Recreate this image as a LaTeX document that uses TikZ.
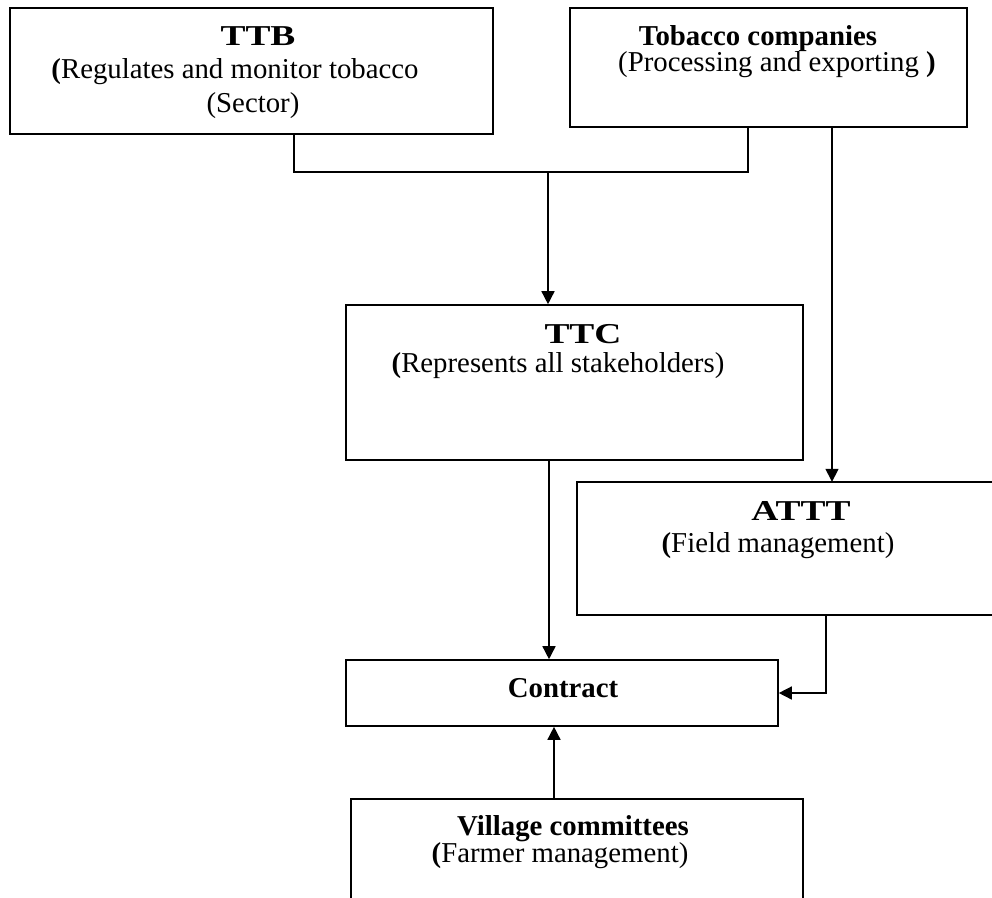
\documentclass[tikz,border=0pt]{standalone}
\usepackage{fontspec}
\setmainfont{Liberation Serif}
\usetikzlibrary{arrows.meta}
\begin{document}
\begin{tikzpicture}[x=1pt,y=-1pt,
  box/.style={rectangle, draw=black, line width=1.6pt, inner sep=0pt},
  openbox/.style={rectangle, inner sep=0pt},
  txt/.style={anchor=base, inner sep=0pt, font=\fontsize{28.8}{31}\selectfont},
  head/.style={anchor=base, inner sep=0pt, font=\fontsize{28.8}{31}\selectfont\bfseries},
  conn/.style={line width=1.5pt},
  arr/.style={conn, -{Triangle[length=13pt,width=13pt]}}]
\useasboundingbox (0,0) rectangle (992,897);
% boxes
\node[box, minimum width=483pt, minimum height=126pt] (ttb) at (251.5,71) {};
\node[box, minimum width=397pt, minimum height=119pt] (tob) at (768.5,67.5) {};
\node[box, minimum width=457pt, minimum height=155pt] (ttc) at (574.5,382.5) {};
\node[openbox, minimum width=418pt, minimum height=133pt] (attt) at (786,548.5) {};
\draw[conn, line width=1.6pt] (attt.north east) -- (attt.north west) -- (attt.south west) -- (attt.south east);
\node[box, minimum width=432pt, minimum height=66pt] (con) at (562,693) {};
\node[openbox, minimum width=452pt, minimum height=102pt] (vil) at (577,850) {};
\draw[conn, line width=1.6pt] (vil.south west) -- (vil.north west) -- (vil.north east) -- (vil.south east);
% helper coordinates
\coordinate (tl) at (294,172);
\coordinate (tr) at (748,172);
\coordinate (j) at (548,172);
\coordinate (tx) at (832,0);
\coordinate (cx) at (549,0);
\coordinate (ax) at (826,0);
\coordinate (vx) at (554,0);
% connectors
\draw[conn] (ttb.south -| tl) -- (tl) -- (tr) -- (tob.south -| tr);
\draw[arr] (j) -- (ttc.north -| j);
\draw[arr] (tob.south -| tx) -- (attt.north -| tx);
\draw[arr] (ttc.south -| cx) -- (con.north -| cx);
\draw[arr] (attt.south -| ax) -- (ax |- con.east) -- (con.east);
\draw[arr] (vil.north -| vx) -- (con.south -| vx);
% texts
\node[head] (ttbT) at (258,45) {\scalebox{1.3}[1]{TTB}};
\node[txt] (ttbA) at (235,78) {\textbf{(}Regulates and monitor tobacco};
\node[txt] (ttbB) at (253,112) {(Sector)};
\node[head] (tobT) at (758,45) {Tobacco companies};
\node[txt] (tobA) at (777,71) {(Processing and exporting \textbf{)}};
\node[head] (ttcT) at (583,343) {\scalebox{1.3}[1]{TTC}};
\node[txt] (ttcA) at (558,372) {\textbf{(}Represents all stakeholders)};
\node[head] (atttT) at (801,520) {\scalebox{1.3}[1]{ATTT}};
\node[txt] (atttA) at (778,552) {\textbf{(}Field management)};
\node[head] (conT) at (563,697) {Contract};
\node[head] (vilT) at (573,835) {Village committees};
\node[txt] (vilA) at (560,862) {\textbf{(}Farmer management)};
\end{tikzpicture}
\end{document}
